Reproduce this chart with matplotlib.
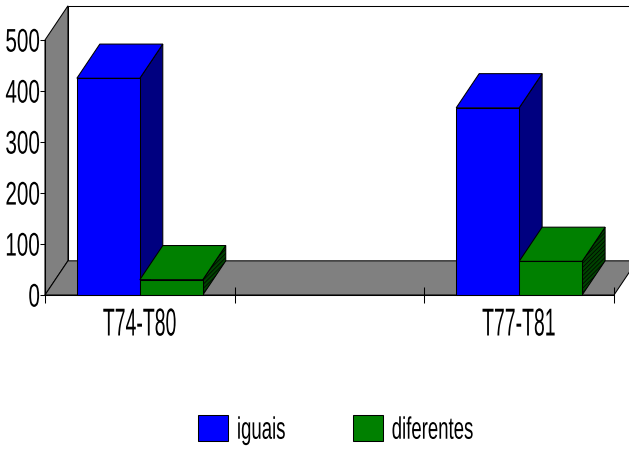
import matplotlib
matplotlib.use("Agg")
import matplotlib.pyplot as plt
from matplotlib.patches import Polygon, Rectangle, Patch
from matplotlib.patheffects import AbstractPathEffect
from matplotlib.transforms import Affine2D

# ---- data ----
categories = ["T74-T80", "", "T77-T81"]
series_names = ["iguais", "diferentes"]
iguais = [425, None, 367]
diferentes = [30, None, 66]
yticks = [0, 100, 200, 300, 400, 500]

# ---- style ----
FRONT = {"iguais": "#0000FF", "diferentes": "#008000"}
SIDE = {"iguais": "#000080", "diferentes": "#004200"}
HATCH = {"iguais": None, "diferentes": "////////"}
WALL = "#808080"
LW = 0.75
DX, DY = 0.121, 67.0          # oblique depth of the 3-D box (x in categories, y in values)
BAR_W = 0.332                 # bar width in category units

plt.rcParams["font.family"] = ["Liberation Sans", "DejaVu Sans"]
plt.rcParams["hatch.linewidth"] = 0.5


class Squeeze(AbstractPathEffect):
    """Draw glyphs rescaled (condensed / stretched) around a chosen anchor."""

    def __init__(self, sx, sy=1.0, anchor="center"):
        super().__init__()
        self._sx = sx
        self._sy = sy
        self._anchor = anchor

    def draw_path(self, renderer, gc, tpath, affine, rgbFace=None):
        bb = tpath.get_extents(affine)
        x0 = {"left": bb.x0, "center": 0.5 * (bb.x0 + bb.x1), "right": bb.x1}[self._anchor]
        y0 = 0.5 * (bb.y0 + bb.y1)
        sq = Affine2D().translate(-x0, -y0).scale(self._sx, self._sy).translate(x0, y0)
        renderer.draw_path(gc, tpath, affine + sq, rgbFace)


W, H = 629, 457
fig = plt.figure(figsize=(W / 100, H / 100), dpi=100)
ax = fig.add_axes([45 / W, (H - 295) / H, 569 / W, 255 / H])
ncat = len(categories)
ax.set_xlim(0, ncat)
ax.set_ylim(0, 500)
ax.patch.set_visible(False)


def poly(pts, fc, hatch=None, z=1):
    p = Polygon(pts, closed=True, facecolor=fc, edgecolor="black", lw=LW,
                hatch=hatch, clip_on=False, zorder=z, joinstyle="miter")
    ax.add_patch(p)


# back wall, left wall and floor
ymax = yticks[-1]
ax.add_patch(Rectangle((DX, DY), ncat, ymax, facecolor="white", edgecolor="black",
                       lw=LW, clip_on=False, zorder=0.5))
poly([(0, 0), (0, ymax), (DX, ymax + DY), (DX, DY)], WALL, z=0.6)
poly([(0, 0), (ncat, 0), (ncat + DX, DY), (DX, DY)], WALL, z=0.6)


def bar3d(x0, v, name):
    x1 = x0 + BAR_W
    poly([(x1, 0), (x1, v), (x1 + DX, v + DY), (x1 + DX, DY)], SIDE[name], HATCH[name])
    poly([(x0, v), (x1, v), (x1 + DX, v + DY), (x0 + DX, v + DY)], FRONT[name])
    ax.add_patch(Rectangle((x0, 0), BAR_W, v, facecolor=FRONT[name], edgecolor="black",
                           lw=LW, clip_on=False, zorder=1))


for i in range(ncat):
    c = i + 0.5
    if iguais[i] is not None:
        bar3d(c - BAR_W, iguais[i], "iguais")
    if diferentes[i] is not None:
        bar3d(c, diferentes[i], "diferentes")

# axes
for s in ("top", "right"):
    ax.spines[s].set_visible(False)
for s in ("left", "bottom"):
    ax.spines[s].set_linewidth(LW)

ax.set_yticks(yticks)
ax.set_yticklabels([str(t) for t in yticks])
ax.tick_params(axis="y", direction="out", length=3.6, width=LW, pad=0, labelsize=16)
for t in ax.get_yticklabels():
    t.set_path_effects([Squeeze(0.93, 1.47, "right")])

ax.set_xticks(range(ncat + 1))
ax.set_xticklabels([])
ax.tick_params(axis="x", which="major", direction="inout", length=11, width=LW)
ax.set_xticks([i + 0.5 for i in range(ncat)], categories, minor=True)
ax.tick_params(axis="x", which="minor", length=0, pad=9, labelsize=28)
for t in ax.get_xticklabels(minor=True):
    t.set_path_effects([Squeeze(0.5, 1.0, "center")])

# legend
handles = [Patch(facecolor=FRONT[n], edgecolor="black", lw=LW, label=n) for n in series_names]
leg = fig.legend(handles=handles, loc="upper left", bbox_to_anchor=(198 / W, 1 - 415 / H),
                 ncol=2, frameon=False, borderpad=0, borderaxespad=0,
                 handlelength=0.98, handleheight=0.92, handletextpad=0.25,
                 columnspacing=1.15, prop={"size": 22.3})
for t in leg.get_texts():
    t.set_path_effects([Squeeze(0.6, 1.0, "left")])

fig.savefig("out.png", dpi=100, facecolor="white")
